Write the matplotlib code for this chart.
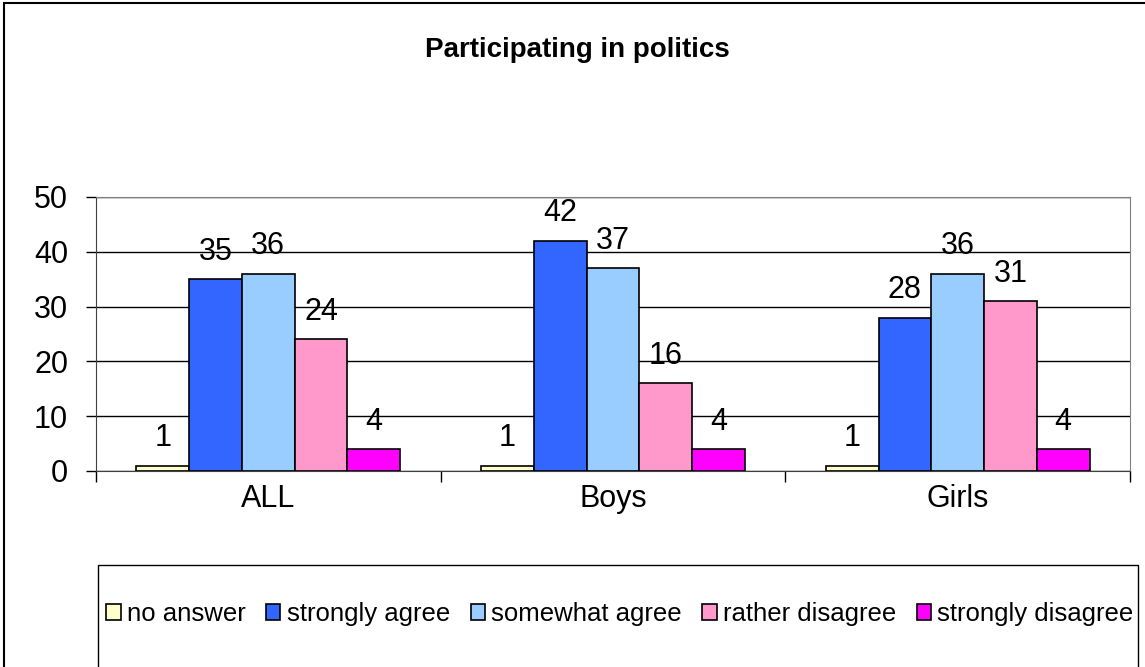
import numpy as np
import matplotlib.pyplot as plt
from matplotlib.patches import Rectangle

plt.rcParams['font.family'] = ['Liberation Sans', 'DejaVu Sans']

groups = ['ALL', 'Boys', 'Girls']
series = ['no answer', 'strongly agree', 'somewhat agree', 'rather disagree', 'strongly disagree']
no_answer = [1, 1, 1]
strongly_agree = [35, 42, 28]
somewhat_agree = [36, 37, 36]
rather_disagree = [24, 16, 31]
strongly_disagree = [4, 4, 4]
colors = ['#FFFFCC', '#3366FF', '#99CCFF', '#FF99CC', '#FF00FF']

values = [no_answer, strongly_agree, somewhat_agree, rather_disagree, strongly_disagree]

W, H = 1145, 667
fig = plt.figure(figsize=(W / 100, H / 100), dpi=100)

# outer chart border (cut off on right/bottom like the original)
fig.patches.append(Rectangle((4 / W, -0.1), 1.2, 1 - 3 / H + 0.1, transform=fig.transFigure,
                             fill=False, edgecolor='black', linewidth=1.5))

ax = fig.add_axes([96 / W, 1 - 471 / H, (1130 - 96) / W, (471 - 197) / H])

x = np.arange(len(groups))
bw = 0.153
for i, (name, vals, c) in enumerate(zip(series, values, colors)):
    pos = x + (i - 2) * bw
    bars = ax.bar(pos, vals, bw, color=c, edgecolor='black', linewidth=1.2, label=name, zorder=3)
    for b, v in zip(bars, vals):
        ax.annotate(str(v), (b.get_x() + b.get_width() / 2, v), xytext=(0, 14),
                    textcoords='offset points', ha='center', va='baseline', fontsize=22)

ax.set_xlim(-0.5, 2.5)
ax.set_ylim(0, 50)
ax.set_yticks(range(0, 51, 10))
ax.tick_params(axis='y', labelsize=22, length=7, width=1, pad=13)
ax.yaxis.grid(True, color='black', linewidth=1, zorder=0)

ax.set_xticks([-0.5, 0.5, 1.5, 2.5])
ax.set_xticklabels([])
ax.tick_params(axis='x', which='major', length=8, width=1, direction='out')
ax.set_xticks(x, minor=True)
ax.set_xticklabels(groups, minor=True)
ax.tick_params(axis='x', which='minor', length=0, labelsize=22, pad=26)
for lbl in ax.get_xticklabels(minor=True):
    lbl.set_va('baseline')

for s in ['top', 'right']:
    ax.spines[s].set_color('#808080')
ax.spines['left'].set_color('#404040')
ax.spines['bottom'].set_color('#404040')

fig.text(577 / W, 1 - 50 / H, 'Participating in politics', ha='center', va='center',
         fontsize=20, fontweight='bold')

# legend box (extends past the bottom edge)
fig.patches.append(Rectangle((98 / W, -0.1), (1138 - 98) / W, 1 - 565 / H + 0.1,
                             transform=fig.transFigure, fill=False, edgecolor='black', linewidth=1))
fig.legend(loc='center', bbox_to_anchor=(620 / W, 1 - 614 / H), ncol=5, frameon=False,
           fontsize=18.5, handlelength=0.55, handleheight=0.55, handletextpad=0.25,
           columnspacing=0.8, borderaxespad=0, borderpad=0)

fig.savefig('out.png', dpi=100)
